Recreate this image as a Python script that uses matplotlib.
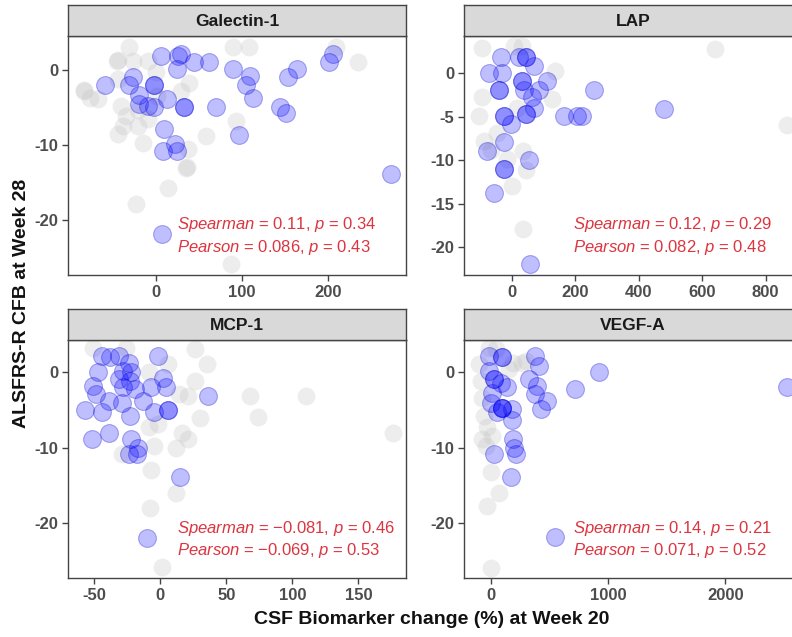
import numpy as np
import matplotlib
matplotlib.use('Agg')
import matplotlib.pyplot as plt

plt.rcParams['font.family'] = ['Liberation Sans', 'DejaVu Sans']
plt.rcParams['mathtext.fontset'] = 'custom'
plt.rcParams['mathtext.rm'] = 'Liberation Sans'
plt.rcParams['mathtext.it'] = 'Liberation Sans:italic'
plt.rcParams['axes.unicode_minus'] = False

# ---- data: (x = % change, y = ALSFRS-R CFB) ----
# Galectin-1
gal_blue_x = [-59, -27, -31, -2, -2, -20, -19, -9, -2, 13, 6, 26, 29, 25, 45, 62, 33, 33, 70,
              10, 8, 22, 25, 90, 110, 105, 113, 97, 7, 144, 151, 154, 164, 201, 206, 274]
gal_blue_y = [-2, -1, -2, -2, -2, -3.4, -4.6, -4.8, -5, -3.9, 1.9, 1.9, 2.1, 0.1, 1.1, 1.1, -4.9, -4.9, -4.9,
              -7.9, -10.8, -9.9, -10.8, 0.1, -0.8, -2, -3.8, -8.7, -21.9, -4.9, -5.8, -0.9, 0.1, 1, 2.1, -13.8]
gal_grey_x = [-31, -45, -27, -9, -83, -77, -67, -44, -40, -35, -38, -44, -15, -21, -9, 29, 39, 37, 35,
              14, -23, 58, 93, 90, 109, 88, 0, 2, -21, 210, 235, -44, -83, 36]
gal_grey_y = [3, 1.2, 1.2, 1.2, -2.8, -3.7, -3.9, -1.2, -4.8, -6.1, -7.5, -8.6, -9.7, -7.5, -6.6, -2.8, -1.7, -10.6, -13,
              -15.7, -17.9, -8.8, -6.8, 3, 3, -25.8, -0.3, -3.5, -5.4, 3.1, 1.1, 1.3, -2.7, -12.9]

# LAP
lap_blue_x = [-34, -72, -30, -41, -41, 22, 43, 43, 69, 32, 32, 38, 111, 85, 64, 69, 46, 46, -25, -25,
              -4, -25, -78, -25, -25, 53, -57, 57, 164, 205, 221, 258, 479]
lap_blue_y = [1.8, 0, 0, -1.9, -1.9, 1.8, 1.8, 1.8, 0.8, -0.9, -0.9, -1.9, -0.9, -1.9, -2.8, -4, -4.7, -4.7, -4.9, -4.9,
              -5.9, -7.9, -9, -11, -11, -10, -13.8, -21.9, -4.9, -4.9, -4.9, -2, -4.1]
lap_grey_x = [-93, 6, 32, 137, -93, -104, 127, 17, -88, -67, -46, -15, 43, 1, 36, 36, 642, 867]
lap_grey_y = [2.9, 3.1, 3.1, 0.2, -2.8, -4.9, -3, -4, -7.8, -8.8, -6.9, -9.9, -11.1, -13, -9, -17.9, 2.8, -6]

# MCP-1
mcp_blue_x = [-44, -38, -31, -24, -28, -22, -31, -23, -28, -19, -47, -51, -49, -39, -57, -44, -29, -23,
              -13, -5, -7, -2, 2, 4, 6, 6, 36, -52, -39, -22, -17, -24, -18, 15, -10]
mcp_blue_y = [2.2, 2.0, 2.2, 1.3, 0.2, 0, -0.9, -1.2, -2.0, -2.2, 0, -1.8, -2.9, -3.8, -5, -5.2, -4, -5.8,
              -3.8, -5.2, -2, 2.2, -0.7, -2, -5, -5, -3.1, -8.9, -8, -8.8, -10, -10.9, -10.9, -13.9, -22]
mcp_grey_x = [-51, -26, 26, 35, 6, -9, 26, 14, 21, 30, -9, -2, 16, 21, 12, -5, -29, -7, 12, -8, 1,
              68, 110, 74, 176]
mcp_grey_y = [3.3, 3.3, 3.1, 1.1, 1.1, 0, -1.2, -2.9, -3.2, -6, -7.2, -6.9, -8, -8.9, -10, -9.8, -10.9, -12.9, -16, -18, -25.8,
              -3.2, -3.2, -5.9, -8]

# VEGF-A
veg_blue_x = [-17, 96, 96, -17, 26, 26, 82, 139, 11, -3, 96, 96, 96, 181, 181, 54, 190, 196, 210, 26,
              168, 372, 409, 323, 389, 380, 479, 423, 721, 550, 922, 2525]
veg_blue_y = [2.2, 2, 2, 0.2, -0.9, -0.9, -1.4, -2, -2.7, -4, -4.7, -4.7, -4.7, -4.9, -6.3, -5.2, -8.8, -10, -10.9, -10.9,
              -13.9, 2.2, 0.8, -0.9, -1.8, -2.9, -3.8, -4.9, -2.2, -21.9, 0, -2]
veg_grey_x = [-17, 40, -102, 266, -88, -74, -60, -31, -74, 11, -45, -3, 68, -31, -3, 153, 185, 298]
veg_grey_y = [3.3, 3.1, 1.1, 1.3, -1.2, -3.4, -5.8, -7.2, -8.9, -8.5, -9.8, -13.2, -16, -17.8, -26, 0.4, 1.3, 1.5]

titles = ['Galectin-1', 'LAP', 'MCP-1', 'VEGF-A']
stats = [('0.11', '0.34', '0.086', '0.43'),
         ('0.12', '0.29', '0.082', '0.48'),
         ('\u22120.081', '0.46', '\u22120.069', '0.53'),
         ('0.14', '0.21', '0.071', '0.52')]
xticks = [[0, 100, 200], [0, 200, 400, 600, 800], [-50, 0, 50, 100, 150], [0, 1000, 2000]]
yticks = [[0, -10, -20], [0, -5, -10, -15, -20], [0, -10, -20], [0, -10, -20]]
xlims = [(-102, 291), (-151, 915), (-70, 186), (-230, 2655)]
ylims = [(-27.3, 4.5), (-23.2, 4.25), (-27.3, 4.3), (-27.3, 4.3)]

blue = [(gal_blue_x, gal_blue_y), (lap_blue_x, lap_blue_y), (mcp_blue_x, mcp_blue_y), (veg_blue_x, veg_blue_y)]
grey = [(gal_grey_x, gal_grey_y), (lap_grey_x, lap_grey_y), (mcp_grey_x, mcp_grey_y), (veg_grey_x, veg_grey_y)]

W, H = 792, 637
fig = plt.figure(figsize=(W / 100, H / 100), dpi=100)

# pixel boxes: left, top, right, bottom
boxes = [(68, 36, 406, 275), (464, 36, 802, 275), (68, 340, 406, 578), (464, 340, 802, 578)]
strip_h = 31

for i in range(4):
    l, t, r, b = boxes[i]
    ax = fig.add_axes([l / W, 1 - b / H, (r - l) / W, (b - t) / H])
    gx, gy = grey[i]
    bx, by = blue[i]
    ax.scatter(gx, gy, s=165, color='#c4c4c4', alpha=0.3, linewidths=0, zorder=2)
    ax.scatter(bx, by, s=165, facecolor=(0, 0, 1, 0.25), edgecolor=(0, 0, 0.8, 0.3),
               linewidths=0.8, zorder=3)
    ax.set_xlim(*xlims[i])
    ax.set_ylim(*ylims[i])
    ax.set_xticks(xticks[i])
    ax.set_yticks(yticks[i])
    for sp in ax.spines.values():
        sp.set_color('#444444')
        sp.set_linewidth(1.0)
    ax.tick_params(direction='out', length=4, width=1, color='#444444',
                   labelsize=12, labelcolor='#4d4d4d', pad=3)
    for lab in ax.get_xticklabels() + ax.get_yticklabels():
        lab.set_fontweight('bold')
    s1, p1, s2, p2 = stats[i]
    ax.text(0.322, 0.21, r'$\it{Spearman}$ = ' + s1 + r', $\it{p}$ = ' + p1,
            transform=ax.transAxes, color='#dc3540', fontsize=12, va='center', ha='left')
    ax.text(0.322, 0.117, r'$\it{Pearson}$ = ' + s2 + r', $\it{p}$ = ' + p2,
            transform=ax.transAxes, color='#dc3540', fontsize=12, va='center', ha='left')

    # facet strip
    sax = fig.add_axes([l / W, 1 - t / H, (r - l) / W, strip_h / H])
    sax.set_facecolor('#d9d9d9')
    sax.set_xticks([])
    sax.set_yticks([])
    for sp in sax.spines.values():
        sp.set_color('#444444')
        sp.set_linewidth(1.0)
    sax.text(0.5, 0.48, titles[i], transform=sax.transAxes, ha='center', va='center',
             fontsize=12.5, fontweight='bold', color='#1a1a1a')

fig.text(22 / W, 1 - 303 / H, 'ALSFRS-R CFB at Week 28', rotation=90, ha='center', va='center',
         fontsize=14, fontweight='bold', color='#111111')
fig.text(432 / W, 1 - 620 / H, 'CSF Biomarker change (%) at Week 20', ha='center', va='center',
         fontsize=14, fontweight='bold', color='#111111')

fig.savefig('out.png', dpi=100)
